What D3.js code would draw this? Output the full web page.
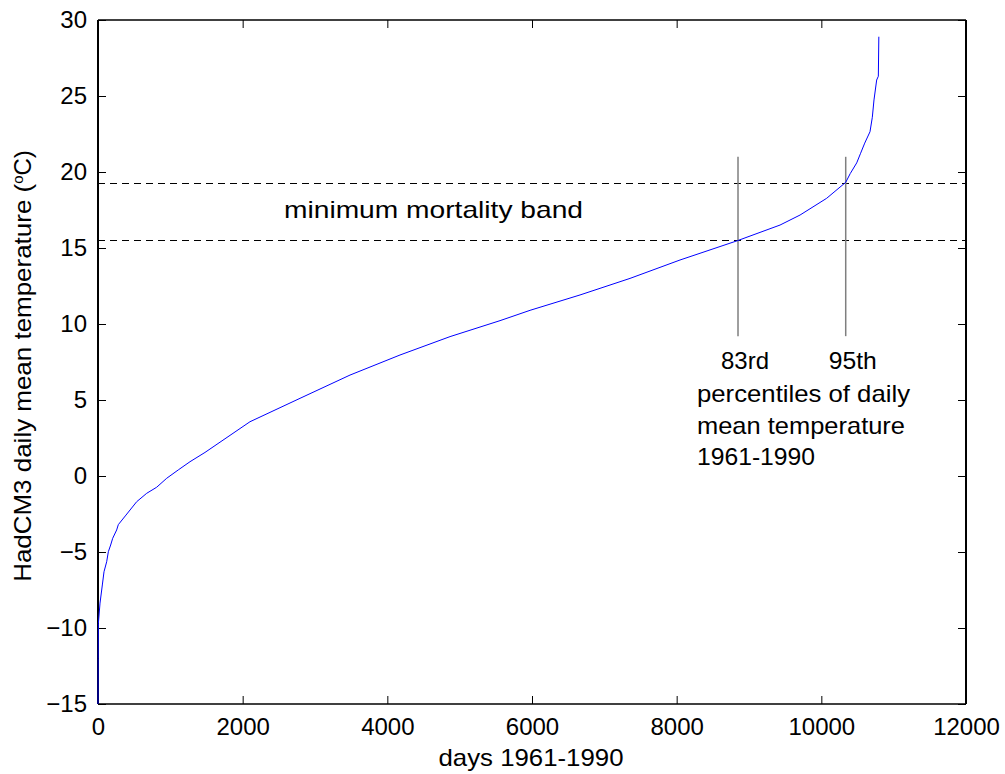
<!DOCTYPE html>
<html>
<head>
<meta charset="utf-8">
<script src="https://cdn.jsdelivr.net/npm/d3@7"></script>
<style>
  body { margin: 0; background: #fff; }
  text { font-family: "Liberation Sans", Arial, sans-serif; fill: #000; }
</style>
</head>
<body>
<svg id="chart"></svg>
<script>
// sorted daily mean temperature
const days = [0, 2, 5, 28, 60, 83, 120, 143, 175, 203, 258, 281, 387, 535, 673, 811, 950, 1110, 1272,
  1479, 2101, 2793, 3484, 4175, 4867, 5558, 5973, 6664, 7355, 8046, 8839, 9429, 9706, 10074, 10337,
  10400, 10489, 10540, 10600, 10673, 10705, 10728, 10765, 10788, 10795];
const temps = [-15, -12, -9.7, -8.36, -7.17, -6.3, -5.64, -4.98, -4.54, -4.1, -3.55, -3.2, -2.57, -1.69,
  -1.14, -0.74, -0.15, 0.4, 0.94, 1.55, 3.57, 5.11, 6.64, 7.96, 9.17, 10.22, 10.9, 11.91, 13.0, 14.21,
  15.48, 16.51, 17.17, 18.27, 19.32, 19.9, 20.6, 21.2, 21.9, 22.65, 23.6, 24.74, 26.05, 26.3, 28.9];

const bandTemps = [15.53, 19.3];          // dashed lines
const percentileDays = [8848, 10337];     // 83rd and 95th
const percentileNames = ["83rd", "95th"];
const noteLines = ["percentiles of daily", "mean temperature", "1961-1990"];

const xTicks = d3.range(0, 12001, 2000);
const yTicks = d3.range(-15, 31, 5);

const W = 1005, H = 774;
const margin = { left: 98, top: 20, right: 39, bottom: 70 };
const iw = W - margin.left - margin.right;
const ih = H - margin.top - margin.bottom;

const svg = d3.select('#chart').attr('width', W).attr('height', H);
const g = svg.append('g').attr('transform', `translate(${margin.left},${margin.top})`);

const x = d3.scaleLinear().domain([0, 12000]).range([0, iw]);
const y = d3.scaleLinear().domain([-15, 30]).range([ih, 0]);

// axes, ticks pointing inward
const fs = 24;
const bottom = g.append('g').attr('transform', `translate(0,${ih})`)
  .call(d3.axisBottom(x).tickValues(xTicks).tickSize(-8).tickPadding(14).tickFormat(d3.format('d')));
const left = g.append('g')
  .call(d3.axisLeft(y).tickValues(yTicks).tickSize(-8).tickPadding(11).tickFormat(d3.format('d')));
g.append('g').call(d3.axisTop(x).tickValues(xTicks).tickSize(-8).tickFormat(''));
g.append('g').attr('transform', `translate(${iw},0)`)
  .call(d3.axisRight(y).tickValues(yTicks).tickSize(-8).tickFormat(''));

g.selectAll('.domain').remove();
g.selectAll('.tick line').attr('stroke', '#000');
bottom.selectAll('text').style('font-size', fs + 'px').attr('font-family', null);
left.selectAll('text').style('font-size', fs + 'px').attr('font-family', null);

// frame
g.append('line').attr('x1', 0).attr('x2', iw).attr('y1', 0).attr('y2', 0).attr('stroke', '#000').attr('stroke-width', 1.5);
g.append('line').attr('x1', 0).attr('x2', iw).attr('y1', ih).attr('y2', ih).attr('stroke', '#000').attr('stroke-width', 1.5);
g.append('line').attr('x1', 0).attr('x2', 0).attr('y1', 0).attr('y2', ih).attr('stroke', '#000').attr('stroke-width', 2);
g.append('line').attr('x1', iw).attr('x2', iw).attr('y1', 0).attr('y2', ih).attr('stroke', '#000').attr('stroke-width', 2);

// band lines
g.selectAll('.band').data(bandTemps).enter().append('line')
  .attr('x1', 0).attr('x2', iw)
  .attr('y1', d => Math.round(y(d)) + 0.5).attr('y2', d => Math.round(y(d)) + 0.5)
  .attr('stroke', '#000').attr('stroke-width', 1).attr('stroke-dasharray', '7,5');

// percentile markers
g.selectAll('.pct').data(percentileDays).enter().append('line')
  .attr('x1', d => x(d)).attr('x2', d => x(d))
  .attr('y1', y(21)).attr('y2', y(9.2))
  .attr('stroke', '#7f7f7f').attr('stroke-width', 1.5);

// the curve
const line = d3.line().x((d, i) => x(d)).y((d, i) => y(temps[i]));
g.append('path').datum(days)
  .attr('fill', 'none').attr('stroke', '#0000ff').attr('stroke-width', 1)
  .attr('d', line);

// annotations
g.append('text').attr('x', 186).attr('y', y(19.3) + 35)
  .style('font-size', fs + 'px')
  .attr('textLength', 299).attr('lengthAdjust', 'spacingAndGlyphs')
  .text('minimum mortality band');

g.selectAll('.pname').data(percentileNames).enter().append('text')
  .attr('x', (d, i) => x(percentileDays[i]) - 17)
  .attr('y', 349)
  .style('font-size', fs + 'px')
  .attr('textLength', 48).attr('lengthAdjust', 'spacingAndGlyphs')
  .text(d => d);

const noteLen = [213, 208, 118];
g.selectAll('.note').data(noteLines).enter().append('text')
  .attr('x', 599).attr('y', (d, i) => 382 + i * 31.5)
  .style('font-size', fs + 'px')
  .attr('textLength', (d, i) => noteLen[i]).attr('lengthAdjust', 'spacingAndGlyphs')
  .text(d => d);

// axis titles
svg.append('text').attr('x', 531).attr('y', 766)
  .attr('text-anchor', 'middle').style('font-size', fs + 'px')
  .attr('textLength', 185).attr('lengthAdjust', 'spacingAndGlyphs')
  .text('days 1961-1990');

const yl = svg.append('text')
  .attr('transform', `translate(31,366) rotate(-90)`)
  .attr('text-anchor', 'middle').style('font-size', fs + 'px');
yl.append('tspan').attr('textLength', 398).attr('lengthAdjust', 'spacingAndGlyphs')
  .text('HadCM3 daily mean temperature (');
yl.append('tspan').attr('dy', -8).style('font-size', '15px').text('o');
yl.append('tspan').attr('dy', 8).text('C)');
</script>
</body>
</html>
